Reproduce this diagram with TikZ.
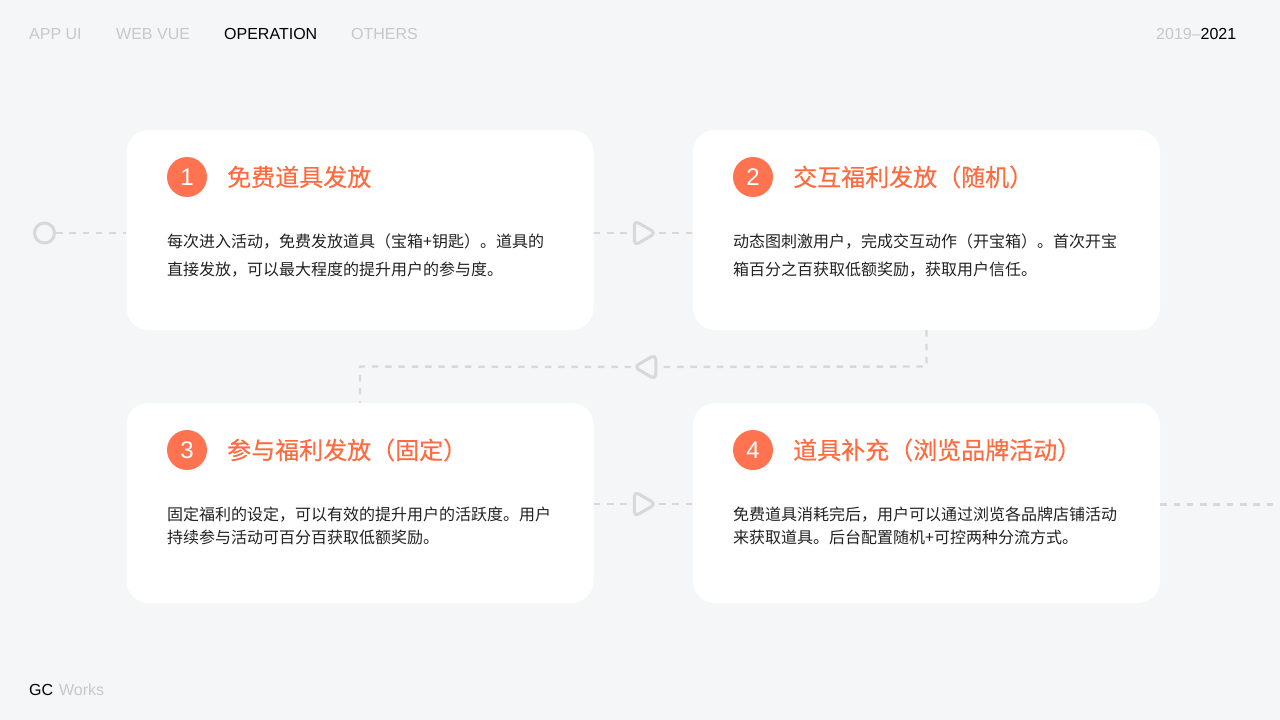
\documentclass[tikz,border=0pt]{standalone}
\usepackage{fontspec}
\setmainfont{Liberation Sans}
\newfontfamily\cjk{Noto Sans CJK SC}
\newfontfamily\cjktitle[FakeBold=0.35]{Noto Sans CJK SC}
\usetikzlibrary{shapes.geometric}
\definecolor{pagebg}{HTML}{F5F6F8}
\definecolor{orangemark}{HTML}{FF7350}
\definecolor{orangetitle}{HTML}{FF6A3F}
\definecolor{flowgrey}{HTML}{D8D8D8}
\definecolor{navgrey}{HTML}{C8C8C8}
\definecolor{bodyink}{HTML}{222222}

\begin{document}
\begin{tikzpicture}[
			     x=1pt, y=-1pt,
			     card/.style={fill=white,draw=none,rounded corners=22pt,minimum width=467pt,minimum height=200pt,inner sep=0pt},
			     badge/.style={circle,fill=orangemark,draw=none,minimum size=40pt,inner sep=0pt,text=white,font=\fontsize{24}{28}\selectfont},
			     cardtitle/.style={anchor=west,inner sep=0pt,text=orangetitle,font=\cjktitle\fontsize{24}{30}\selectfont},
			     cardbody/.style={anchor=west,inner sep=0pt,align=left,text=bodyink},
			     navtext/.style={anchor=base west,inner sep=0pt,text=navgrey,font=\fontsize{16}{20}\selectfont},
			     flow/.style={draw=flowgrey,line width=2.4pt,dash pattern=on 6.5pt off 6.8pt},
			     flowtip/.style={regular polygon,regular polygon sides=3,draw=flowgrey,line width=3pt,line join=round,rounded corners=5pt,minimum size=29pt,inner sep=0pt}
			     ]
\useasboundingbox[fill=pagebg] (0,0) rectangle (1280,720);

% header and footer
\node[navtext] (navapp) at (29,39) {APP UI};
\node[navtext] (navweb) at (116,39) {WEB VUE};
\node[navtext,text=black] (navop) at (224,39) {OPERATION};
\node[navtext] (navother) at (351,39) {OTHERS};
\node[navtext] (years) at (1156,39) {2019–\textcolor{black}{2021}};
\node[navtext] (brand) at (29,695) {\textcolor{black}{GC}\hspace{1.5pt} Works};

% the four cards
\node[card] (card1) at (360,230) {};
\node[card] (card2) at (926.5,230) {};
\node[card] (card3) at (360,503) {};
\node[card] (card4) at (926.5,503) {};

\node[badge] (badge1) at (187,177) {1};
\node[badge] (badge2) at (753,177) {2};
\node[badge] (badge3) at (187,450) {3};
\node[badge] (badge4) at (753,450) {4};

\node[cardtitle] (title1) at (227,177) {免费道具发放};
\node[cardtitle] (title2) at (793,177) {交互福利发放（随机）};
\node[cardtitle] (title3) at (227,450) {参与福利发放（固定）};
\node[cardtitle] (title4) at (793,450) {道具补充（浏览品牌活动）};

\node[cardbody,font=\cjk\fontsize{16}{28}\selectfont] (body1) at (167,256) {每次进入活动，免费发放道具（宝箱+钥匙）。道具的\\直接发放，可以最大程度的提升用户的参与度。};
\node[cardbody,font=\cjk\fontsize{16}{28}\selectfont] (body2) at (733,256) {动态图刺激用户，完成交互动作（开宝箱）。首次开宝\\箱百分之百获取低额奖励，获取用户信任。};
\node[cardbody,font=\cjk\fontsize{16}{23}\selectfont] (body3) at (167,525.5) {固定福利的设定，可以有效的提升用户的活跃度。用户\\持续参与活动可百分百获取低额奖励。};
\node[cardbody,font=\cjk\fontsize{16}{23}\selectfont] (body4) at (733,525.5) {免费道具消耗完后，用户可以通过浏览各品牌店铺活动\\来获取道具。后台配置随机+可控两种分流方式。};

% flow between the cards
\node[circle,draw=flowgrey,line width=3pt,minimum size=20pt,inner sep=0pt] (start) at (44.5,233) {};
\node[flowtip,shape border rotate=-90] (tip12) at (641.5,233) {};
\node[flowtip,shape border rotate=90] (tip23) at (648.5,367) {};
\node[flowtip,shape border rotate=-90] (tip34) at (641.5,504) {};
\coordinate (exit) at (1282,504.5);
\coordinate (bendright) at (926.5,366.5);
\coordinate (bendleft) at (360,366.5);

\path (start) edge[flow] (start -| card1.west);
\path (card1.east |- tip12) edge[flow] (tip12);
\path (tip12) edge[flow] (tip12 -| card2.west);
\draw[flow] (card2.south) -- (bendright) -- (tip23);
\draw[flow] (tip23) -- (bendleft) -- (card3.north);
\path (card3.east |- tip34) edge[flow] (tip34);
\path (tip34) edge[flow] (tip34 -| card4.west);
\path (card4.east |- exit) edge[flow] (exit);
\end{tikzpicture}
\end{document}
